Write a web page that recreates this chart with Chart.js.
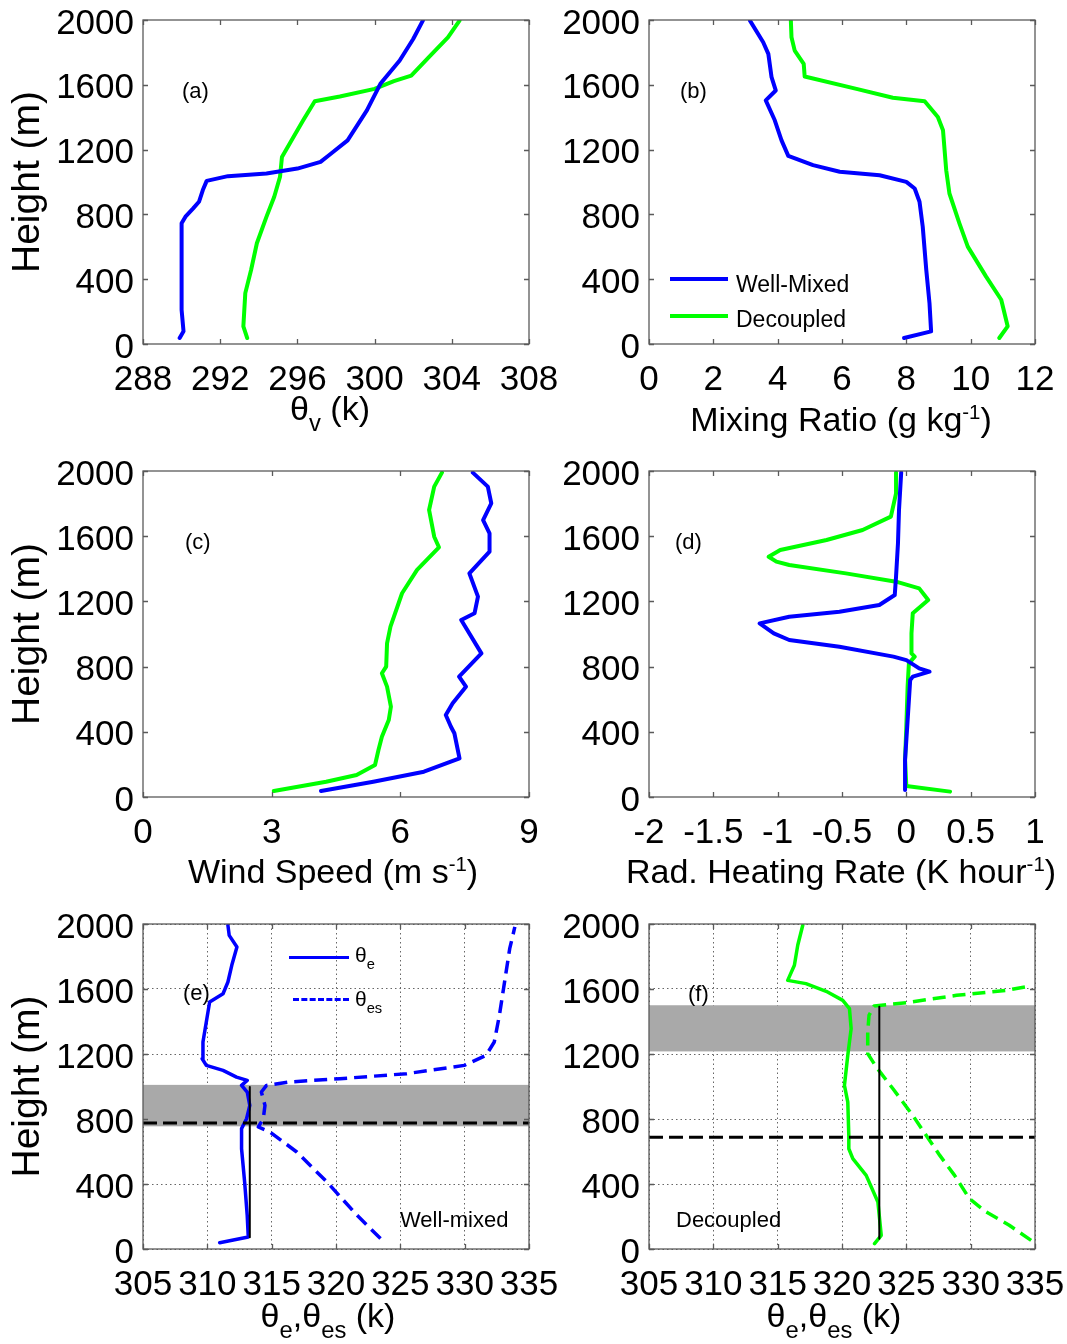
<!DOCTYPE html>
<html>
<head>
<meta charset="utf-8">
<script src="https://cdn.jsdelivr.net/npm/chart.js@4.4.1/dist/chart.umd.min.js"></script>
<style>
  body { margin: 0; background: #fff; font-family: "Liberation Sans", Arial, Helvetica, sans-serif; }
  #page { position: relative; width: 1067px; height: 1344px; overflow: hidden; background: #fff; }
  canvas { position: absolute; }
  .txt { position: absolute; white-space: nowrap; color: #000; line-height: 1; }
  .ttl { font-size: 34px; text-align: center; width: 600px; }
  .tag { font-size: 22px; }
  .note { font-size: 22px; }
  .lo { font-size: 0.7em; position: relative; top: 0.45em; }
  .hi { font-size: 0.6em; position: relative; top: -0.6em; }
  .key { position: absolute; height: 0; border-top: 4px solid; }
</style>
</head>
<body>
<div id="page">
  <canvas id="chartA"></canvas>
  <canvas id="chartB"></canvas>
  <canvas id="chartC"></canvas>
  <canvas id="chartD"></canvas>
  <canvas id="chartE"></canvas>
  <canvas id="chartF"></canvas>

  <div class="txt tag" style="left:182px;top:80px">(a)</div>
  <div class="txt tag" style="left:680px;top:80px">(b)</div>
  <div class="txt tag" style="left:185px;top:531px">(c)</div>
  <div class="txt tag" style="left:675px;top:531px">(d)</div>
  <div class="txt tag" style="left:183px;top:982px">(e)</div>
  <div class="txt tag" style="left:688px;top:983px">(f)</div>

  <div class="txt ttl" style="left:30px;top:391px">&theta;<span class="lo">v</span> (k)</div>
  <div class="txt ttl" style="left:541px;top:402px">Mixing Ratio (g kg<span class="hi">-1</span>)</div>
  <div class="txt ttl" style="left:33px;top:854px">Wind Speed (m s<span class="hi">-1</span>)</div>
  <div class="txt ttl" style="left:541px;top:854px">Rad. Heating Rate (K hour<span class="hi">-1</span>)</div>
  <div class="txt ttl" style="left:28px;top:1298px">&theta;<span class="lo">e</span>,&theta;<span class="lo">es</span> (k)</div>
  <div class="txt ttl" style="left:534px;top:1298px">&theta;<span class="lo">e</span>,&theta;<span class="lo">es</span> (k)</div>

  <div class="key" style="left:670px;top:277px;width:58px;border-color:#0000ff"></div>
  <div class="txt note" style="left:736px;top:273px;font-size:23px">Well-Mixed</div>
  <div class="key" style="left:670px;top:314px;width:58px;border-color:#00ff00"></div>
  <div class="txt note" style="left:736px;top:308px;font-size:23px">Decoupled</div>

  <div class="key" style="left:289px;top:956px;width:60px;border-color:#0000ff;border-top-width:3px"></div>
  <div class="txt note" style="left:355px;top:944px;font-size:21px">&theta;<span class="lo">e</span></div>
  <div class="key" style="left:293px;top:998px;width:56px;border-color:#0000ff;border-top-width:3px;border-top-style:dashed"></div>
  <div class="txt note" style="left:355px;top:988px;font-size:21px">&theta;<span class="lo">es</span></div>

  <div class="txt note" style="left:400px;top:1209px">Well-mixed</div>
  <div class="txt note" style="left:676px;top:1209px">Decoupled</div>
</div>

<script>
// shared height axis
const heightTicks = [0, 400, 800, 1200, 1600, 2000];

// (a) virtual potential temperature, K
const thetaVTicks = [288, 292, 296, 300, 304, 308];
const thetaVMixed = [289.9, 290.1, 290.0, 290.0, 290.2, 290.6, 290.9, 291.1, 291.3, 292.4, 294.4, 296.0, 297.2, 297.7, 298.6, 299.6, 300.3, 301.3, 302.0, 302.5];
const zThetaVMixed = [37, 78, 211, 745, 786, 837, 878, 950, 1007, 1036, 1052, 1083, 1124, 1171, 1257, 1442, 1606, 1750, 1883, 1996];
const thetaVDecoupled = [293.4, 293.2, 293.3, 293.6, 293.9, 294.4, 294.8, 295.1, 295.2, 295.7, 296.3, 296.9, 298.2, 300.0, 301.0, 301.9, 302.9, 303.8, 304.4];
const zThetaVDecoupled = [37, 109, 314, 457, 622, 786, 909, 1032, 1155, 1257, 1381, 1499, 1528, 1575, 1623, 1657, 1781, 1893, 1996];

// (b) mixing ratio, g/kg
const mixTicks = [0, 2, 4, 6, 8, 10, 12];
const mixMixed = [7.93, 8.77, 8.72, 8.62, 8.51, 8.41, 8.26, 8.0, 7.17, 5.93, 5.10, 4.33, 4.12, 3.91, 3.63, 3.94, 3.81, 3.71, 3.55, 3.14];
const zMixMixed = [37, 78, 252, 457, 724, 878, 960, 1001, 1042, 1063, 1104, 1161, 1257, 1381, 1504, 1565, 1647, 1791, 1863, 1996];
const mixDecoupled = [10.89, 11.15, 10.95, 10.48, 9.91, 9.65, 9.34, 9.24, 9.14, 8.98, 8.57, 7.58, 6.45, 4.84, 4.81, 4.53, 4.43, 4.41];
const zMixDecoupled = [37, 109, 273, 416, 601, 745, 929, 1073, 1319, 1401, 1499, 1520, 1575, 1651, 1729, 1811, 1893, 1996];

// (c) wind speed, m/s
const windTicks = [0, 3, 6, 9];
const windMixed = [4.15, 5.37, 6.55, 7.38, 7.26, 7.18, 7.06, 7.22, 7.53, 7.37, 7.89, 7.42, 7.73, 7.81, 7.61, 8.08, 8.08, 7.93, 8.12, 8.04, 7.69];
const zWindMixed = [37, 94, 155, 237, 391, 431, 503, 575, 677, 738, 881, 1086, 1127, 1229, 1372, 1505, 1618, 1699, 1802, 1904, 1990];
const windDecoupled = [3.05, 4.27, 4.98, 5.41, 5.49, 5.57, 5.73, 5.78, 5.69, 5.57, 5.67, 5.69, 5.77, 6.04, 6.39, 6.90, 6.79, 6.67, 6.79, 6.97];
const zWindDecoupled = [37, 94, 135, 196, 288, 370, 472, 554, 677, 759, 800, 943, 1045, 1250, 1393, 1532, 1597, 1761, 1904, 1990];

// (d) radiative heating rate, K/hour
const radTicks = [-2, -1.5, -1, -0.5, 0, 0.5, 1];
const radMixed = [-0.01, -0.01, 0.01, 0.03, 0.05, 0.18, 0.10, 0.0, -0.10, -0.52, -0.91, -1.03, -1.14, -0.91, -0.52, -0.21, -0.09, -0.08, -0.065, -0.057, -0.04];
const zRadMixed = [43, 227, 472, 718, 738, 769, 789, 840, 861, 922, 963, 1004, 1065, 1106, 1137, 1178, 1239, 1352, 1556, 1761, 1990];
const radDecoupled = [0.34, 0.0, -0.01, 0.0, 0.01, 0.02, 0.065, 0.04, 0.04, 0.05, 0.17, 0.14, 0.10, -0.08, -0.47, -0.91, -1.01, -1.07, -0.98, -0.62, -0.34, -0.12, -0.08, -0.08];
const zRadDecoupled = [33, 67, 227, 431, 677, 820, 861, 881, 1004, 1127, 1209, 1239, 1280, 1321, 1372, 1423, 1444, 1474, 1515, 1577, 1638, 1720, 1863, 1990];

// (e) well-mixed theta_e / theta_es, K
const thetaETicks = [305, 310, 315, 320, 325, 330, 335];
const thetaEMixed = [310.96, 313.18, 313.1, 312.9, 312.66, 312.66, 313.05, 313.3, 313.1, 312.66, 313.1, 312.27, 311.22, 309.92, 309.6, 309.66, 310.05, 310.18, 311.22, 311.6, 311.9, 312.3, 311.7, 311.6];
const zThetaEMixed = [39, 74, 207, 412, 617, 741, 802, 884, 966, 1007, 1038, 1058, 1099, 1130, 1171, 1274, 1458, 1520, 1571, 1643, 1746, 1858, 1930, 1992];
const thetaESMixed = [323.46, 321.64, 319.3, 316.95, 314.87, 313.96, 314.35, 314.48, 314.2, 314.6, 316.4, 320.3, 325.5, 329.97, 331.67, 332.3, 332.7, 333.1, 333.5, 333.9];
const zThetaESMixed = [64, 207, 412, 597, 720, 751, 802, 884, 966, 1007, 1028, 1048, 1079, 1130, 1192, 1274, 1438, 1643, 1848, 1982];
const bandMixed = [755, 1010];
const levelMixed = 775;
const mixedThetaE = 313.3;
const zMixedThetaE = [73, 997];

// (f) decoupled theta_e / theta_es, K
const thetaEDecoupled = [322.53, 323.05, 322.79, 321.88, 320.84, 320.53, 320.53, 320.45, 320.19, 320.45, 320.71, 320.58, 320.06, 318.77, 317.2, 315.78, 316.3, 316.56, 316.95];
const zThetaEDecoupled = [33, 84, 289, 453, 556, 617, 699, 904, 1007, 1192, 1356, 1479, 1530, 1586, 1633, 1653, 1746, 1869, 1992];
const thetaESDecoupled = [334.7, 333.0, 331.2, 329.9, 328.75, 327.6, 326.55, 325.5, 323.96, 322.66, 322.0, 322.0, 322.1, 322.5, 325.0, 328.9, 332.8, 334.6];
const zThetaESDecoupled = [53, 146, 228, 310, 453, 576, 699, 822, 986, 1120, 1202, 1336, 1438, 1496, 1516, 1561, 1592, 1618];
const bandDecoupled = [1216, 1500];
const levelDecoupled = 687;
const decoupledThetaE = 322.9;
const zDecoupledThetaE = [63, 1491];

const BLUE = '#0000ff';
const GREEN = '#00ff00';
const FONT = '"Liberation Sans", Arial, Helvetica, sans-serif';
const TICK_SIZE = 35;

function pts(xs, zs) {
    return xs.map((x, i) => ({ x: x, y: zs[i] }));
}

function curve(xs, zs, color, width, dash) {
    return {
        data: pts(xs, zs),
        showLine: true,
        borderColor: color,
        backgroundColor: color,
        borderWidth: width,
        borderDash: dash || [],
        borderCapStyle: dash ? 'butt' : 'round',
        borderJoinStyle: 'round',
        pointRadius: 0,
        fill: false
    };
}

// matlab style box, inward ticks and the shaded layer
const matlabBox = {
    id: 'matlabBox',
    beforeDatasetsDraw(chart, args, opts) {
        if (!opts.band) return;
        const a = chart.chartArea, y = chart.scales.y, ctx = chart.ctx;
        const y1 = y.getPixelForValue(opts.band[1]);
        const y0 = y.getPixelForValue(opts.band[0]);
        ctx.save();
        ctx.fillStyle = '#a9a9a9';
        ctx.fillRect(a.left, y1, a.right - a.left, y0 - y1);
        ctx.restore();
    },
    afterDatasetsDraw(chart) {
        const a = chart.chartArea, ctx = chart.ctx;
        const xs = chart.scales.x, ys = chart.scales.y;
        const len = 5;
        ctx.save();
        ctx.strokeStyle = '#5a5a5a';
        ctx.lineWidth = 1.3;
        ctx.beginPath();
        xs.ticks.forEach(t => {
            const px = Math.round(xs.getPixelForValue(t.value)) + 0.5;
            ctx.moveTo(px, a.bottom); ctx.lineTo(px, a.bottom - len);
            ctx.moveTo(px, a.top); ctx.lineTo(px, a.top + len);
        });
        ys.ticks.forEach(t => {
            const py = Math.round(ys.getPixelForValue(t.value)) + 0.5;
            ctx.moveTo(a.left, py); ctx.lineTo(a.left + len, py);
            ctx.moveTo(a.right, py); ctx.lineTo(a.right - len, py);
        });
        ctx.stroke();
        ctx.strokeRect(a.left, a.top, a.right - a.left, a.bottom - a.top);
        ctx.restore();
    }
};

function profileChart(id, frame, area, xMin, xMax, xTicks, datasets, extra) {
    const canvas = document.getElementById(id);
    canvas.width = frame.width;
    canvas.height = frame.height;
    canvas.style.left = frame.left + 'px';
    canvas.style.top = frame.top + 'px';
    const dotted = !!extra.dotted;
    const gridOpts = dotted
        ? { display: true, drawTicks: false, color: '#666', lineWidth: 1 }
        : { display: false, drawTicks: false };
    return new Chart(canvas, {
        type: 'scatter',
        data: { datasets: datasets },
        options: {
            responsive: false,
            animation: false,
            events: [],
            layout: {
                padding: { top: area.top - frame.top, right: frame.left + frame.width - area.right, bottom: 0, left: 0 }
            },
            plugins: {
                legend: { display: false },
                tooltip: { enabled: false },
                matlabBox: { band: extra.band || null }
            },
            scales: {
                x: {
                    type: 'linear',
                    min: xMin,
                    max: xMax,
                    afterBuildTicks: s => { s.ticks = xTicks.map(v => ({ value: v })); },
                    afterFit: s => {
                        s.height = frame.top + frame.height - area.bottom;
                        s.paddingLeft = 0;
                        s.paddingRight = 0;
                    },
                    grid: gridOpts,
                    border: { display: false, dash: [1.5, 3] },
                    ticks: {
                        autoSkip: false, maxRotation: 0, minRotation: 0, padding: 15,
                        color: '#000', font: { family: FONT, size: TICK_SIZE },
                        callback: v => String(v)
                    }
                },
                y: {
                    type: 'linear',
                    min: 0,
                    max: 2000,
                    afterBuildTicks: s => { s.ticks = heightTicks.map(v => ({ value: v })); },
                    afterFit: s => {
                        s.width = area.left - frame.left;
                        s.paddingTop = 0;
                        s.paddingBottom = 0;
                    },
                    grid: gridOpts,
                    border: { display: false, dash: [1.5, 3] },
                    title: {
                        display: !!extra.yTitle,
                        text: 'Height (m)',
                        color: '#000',
                        font: { family: FONT, size: 39 },
                        padding: { top: 5, bottom: 0 }
                    },
                    ticks: {
                        padding: 9, labelOffset: 4, color: '#000', font: { family: FONT, size: TICK_SIZE },
                        callback: v => String(v)
                    }
                }
            }
        },
        plugins: [matlabBox]
    });
}

const leftFrame = top => ({ left: 0, top: top, width: 600, height: 420 });
const rightFrame = top => ({ left: 545, top: top, width: 522, height: 420 });

profileChart('chartA', leftFrame(0), { left: 143, right: 529, top: 20, bottom: 344 },
    288, 308, thetaVTicks,
    [curve(thetaVMixed, zThetaVMixed, BLUE, 4), curve(thetaVDecoupled, zThetaVDecoupled, GREEN, 4)],
    { yTitle: true });

profileChart('chartB', rightFrame(0), { left: 649, right: 1035, top: 20, bottom: 344 },
    0, 12, mixTicks,
    [curve(mixMixed, zMixMixed, BLUE, 4), curve(mixDecoupled, zMixDecoupled, GREEN, 4)],
    {});

profileChart('chartC', leftFrame(452), { left: 143, right: 529, top: 471, bottom: 797 },
    0, 9, windTicks,
    [curve(windMixed, zWindMixed, BLUE, 4), curve(windDecoupled, zWindDecoupled, GREEN, 4)],
    { yTitle: true });

profileChart('chartD', rightFrame(452), { left: 649, right: 1035, top: 471, bottom: 797 },
    -2, 1, radTicks,
    [curve(radMixed, zRadMixed, BLUE, 4), curve(radDecoupled, zRadDecoupled, GREEN, 4)],
    {});

profileChart('chartE', leftFrame(905), { left: 143, right: 529, top: 924, bottom: 1249 },
    305, 335, thetaETicks,
    [
        curve([mixedThetaE, mixedThetaE], zMixedThetaE, '#000', 2),
        curve([305, 335], [levelMixed, levelMixed], '#000', 3, [14, 6]),
        curve(thetaEMixed, zThetaEMixed, BLUE, 3.5),
        curve(thetaESMixed, zThetaESMixed, BLUE, 3.5, [13, 7])
    ],
    { yTitle: true, dotted: true, band: bandMixed });

profileChart('chartF', rightFrame(905), { left: 649, right: 1035, top: 924, bottom: 1249 },
    305, 335, thetaETicks,
    [
        curve([decoupledThetaE, decoupledThetaE], zDecoupledThetaE, '#000', 2),
        curve([305, 335], [levelDecoupled, levelDecoupled], '#000', 3, [14, 6]),
        curve(thetaEDecoupled, zThetaEDecoupled, GREEN, 3.5),
        curve(thetaESDecoupled, zThetaESDecoupled, GREEN, 3.5, [13, 7])
    ],
    { dotted: true, band: bandDecoupled });
</script>
</body>
</html>
